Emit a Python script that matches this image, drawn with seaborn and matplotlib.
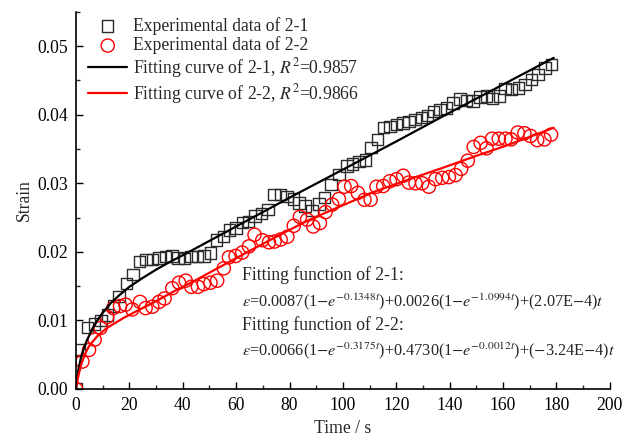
import pandas as pd
import matplotlib
matplotlib.use('Agg')
import matplotlib.pyplot as plt
import seaborn as sns
from matplotlib.ticker import MultipleLocator

t_21 = [0, 1.4, 4.4, 6.9, 9.3, 11.8, 14.0, 16.2, 18.9, 21.4,
        23.9, 26.3, 28.7, 31.1, 33.5, 35.9, 38.3, 40.7, 43.1, 45.5,
        47.9, 50.3, 52.7, 55.2, 57.5, 59.9, 62.3, 64.7, 67.1, 69.5,
        72.0, 74.2, 76.6, 79.0, 81.4, 83.5, 85.8, 88.5, 91.0, 93.2,
        95.6, 98.5, 101.5, 103.6, 106.0, 108.4, 110.6, 113.0, 115.3, 117.7,
        120.1, 122.5, 124.7, 127.1, 129.5, 131.7, 134.0, 136.4, 138.8, 141.3,
        143.8, 146.3, 148.8, 151.3, 153.8, 156.1, 158.6, 160.8, 163.2, 165.7,
        168.2, 170.7, 173.1, 175.7, 178.2]
strain_21 = [0, 0.0057, 0.0090, 0.0095, 0.0100, 0.0108, 0.0121, 0.0135, 0.0154, 0.0167,
             0.0186, 0.0189, 0.0189, 0.0191, 0.0193, 0.0194, 0.0191, 0.0190, 0.0193, 0.0193,
             0.0194, 0.0198, 0.0217, 0.0222, 0.0232, 0.0235, 0.0243, 0.0244, 0.0252, 0.0256,
             0.0262, 0.0284, 0.0284, 0.0281, 0.0277, 0.0271, 0.0267, 0.0260, 0.0270, 0.0279,
             0.0298, 0.0313, 0.0325, 0.0328, 0.0332, 0.0334, 0.0352, 0.0364, 0.0381, 0.0383,
             0.0386, 0.0388, 0.0390, 0.0393, 0.0396, 0.0399, 0.0405, 0.0408, 0.0410, 0.0417,
             0.0423, 0.0421, 0.0420, 0.0426, 0.0427, 0.0424, 0.0427, 0.0438, 0.0437, 0.0439,
             0.0444, 0.0451, 0.0459, 0.0468, 0.0473]

# experimental data 2-2 (circles)
t_22 = [0, 2.4, 4.9, 7.0, 9.2, 11.7, 14.0, 16.5, 18.6, 21.1,
        24.0, 26.1, 28.6, 31.1, 33.2, 36.1, 38.6, 41.1, 43.2, 45.7,
        47.9, 50.4, 52.9, 55.4, 57.3, 59.8, 62.3, 64.8, 66.9, 69.8,
        72.3, 74.4, 76.7, 79.2, 81.6, 83.9, 86.6, 88.9, 91.4, 93.5,
        96.0, 98.5, 100.6, 103.1, 105.6, 108.1, 110.4, 112.6, 115.1, 117.6,
        120.1, 122.6, 124.7, 127.2, 129.7, 132.2, 134.7, 137.2, 139.7, 142.2,
        144.3, 146.8, 149.0, 151.6, 153.8, 155.9, 158.4, 160.9, 163.0, 165.5,
        168.0, 170.3, 172.8, 175.5, 178.0]
strain_22 = [0, 0.0040, 0.0057, 0.0072, 0.0089, 0.0105, 0.0118, 0.0121, 0.0123, 0.0116,
             0.0127, 0.0118, 0.0120, 0.0127, 0.0132, 0.0147, 0.0155, 0.0158, 0.0149, 0.0149,
             0.0153, 0.0155, 0.0158, 0.0176, 0.0192, 0.0194, 0.0199, 0.0208, 0.0225, 0.0217,
             0.0214, 0.0215, 0.0218, 0.0222, 0.0238, 0.0251, 0.0247, 0.0237, 0.0242, 0.0258,
             0.0269, 0.0277, 0.0295, 0.0296, 0.0286, 0.0276, 0.0276, 0.0295, 0.0296, 0.0303,
             0.0306, 0.0311, 0.0301, 0.0300, 0.0300, 0.0295, 0.0306, 0.0308, 0.0309, 0.0312,
             0.0321, 0.0333, 0.0353, 0.0359, 0.0351, 0.0365, 0.0365, 0.0365, 0.0364, 0.0374,
             0.0373, 0.0369, 0.0363, 0.0364, 0.0371]

# fitting curves
t_fit21 = [0, 0.25, 0.5, 1, 2, 3, 4, 6, 8, 10, 13, 16, 20, 25, 30, 35, 40, 50, 60, 80,
           100, 120, 140, 160, 179]
fit_21 = [0, 0.0010, 0.0018, 0.0030, 0.0048, 0.0060, 0.0070, 0.0087, 0.0100, 0.0111,
          0.0125, 0.0136, 0.0149, 0.0162, 0.0174, 0.0185, 0.0195, 0.0216, 0.0237, 0.0279,
          0.0320, 0.0361, 0.0403, 0.0444, 0.0483]
t_fit22 = [0, 0.5, 1, 2, 3, 4, 5, 6, 8, 10, 12, 15, 18, 22, 26, 30, 37, 45, 53, 62,
           75, 87, 100, 112, 125, 137, 150, 162, 179]
fit_22 = [0, 0.0011, 0.0021, 0.0036, 0.0047, 0.0056, 0.0063, 0.0068, 0.0077, 0.0084,
          0.0090, 0.0097, 0.0104, 0.0112, 0.0120, 0.0128, 0.0143, 0.0159, 0.0176, 0.0195,
          0.0222, 0.0246, 0.0268, 0.0288, 0.0306, 0.0322, 0.0340, 0.0356, 0.0381]

labels = ['Experimental data of 2-1', 'Experimental data of 2-2',
          'Fitting curve of 2-1, $R^2$=0.9857', 'Fitting curve of 2-2, $R^2$=0.9866']
func_text = ['Fitting function of 2-1:',
             r'$\varepsilon$=0.0087(1$-$$e^{-0.1348t}$)+0.0026(1$-$$e^{-1.0994t}$)+(2.07E$-$4)$t$',
             'Fitting function of 2-2:',
             r'$\varepsilon$=0.0066(1$-$$e^{-0.3175t}$)+0.4730(1$-$$e^{-0.0012t}$)+($-$3.24E$-$4)$t$']

sns.set_style('ticks')
plt.rcParams['font.family'] = ['Liberation Serif', 'DejaVu Serif']
plt.rcParams['mathtext.fontset'] = 'stix'
fs = 12.7
plt.rcParams['font.size'] = fs

df21 = pd.DataFrame({'t': t_21, 'strain': strain_21})
df22 = pd.DataFrame({'t': t_22, 'strain': strain_22})
fit21 = pd.DataFrame({'t': t_fit21, 'strain': fit_21})
fit22 = pd.DataFrame({'t': t_fit22, 'strain': fit_22})

fig = plt.figure(figsize=(6.31, 4.38), dpi=100)
ax = fig.add_axes([0.1204, 0.1119, 0.846, 0.861])

sns.scatterplot(data=df21, x='t', y='strain', marker='s', s=68, facecolor='none',
                edgecolor='#2b2b2b', linewidth=1.0, label=labels[0], ax=ax)
sns.scatterplot(data=df22, x='t', y='strain', marker='o', s=90, facecolor='none',
                edgecolor='red', linewidth=1.0, label=labels[1], ax=ax)
sns.lineplot(data=fit21, x='t', y='strain', color='black', linewidth=1.6, label=labels[2], ax=ax)
sns.lineplot(data=fit22, x='t', y='strain', color='red', linewidth=1.6, label=labels[3], ax=ax)

ax.set_xlim(0, 200)
ax.set_ylim(0, 0.055)
ax.xaxis.set_major_locator(MultipleLocator(20))
ax.xaxis.set_minor_locator(MultipleLocator(10))
ax.yaxis.set_major_locator(MultipleLocator(0.01))
ax.yaxis.set_minor_locator(MultipleLocator(0.005))
ax.yaxis.set_major_formatter(matplotlib.ticker.FormatStrFormatter('%.2f'))
ax.tick_params(which='major', direction='in', length=5, width=1, labelsize=fs,
               colors='black', pad=6)
ax.tick_params(which='minor', direction='in', length=3, width=1)
sns.despine(ax=ax)
for sp in ['left', 'bottom']:
    ax.spines[sp].set_linewidth(1.2)
    ax.spines[sp].set_color('black')
ax.set_xlabel('Time / s', fontsize=fs, labelpad=4)
ax.set_ylabel('Strain', fontsize=fs, labelpad=3)

handles, labs = ax.get_legend_handles_labels()
order = [labs.index(l) for l in labels]
ax.legend([handles[i] for i in order], [labs[i] for i in order], loc='upper left',
          bbox_to_anchor=(0.0, 1.02), frameon=False, fontsize=fs, handlelength=2.2,
          handletextpad=0.35, labelspacing=0.1, borderaxespad=0.3)

text_y = [0.302, 0.232, 0.169, 0.102]
text_fs = [fs, 11.7, fs, 11.7]
for txt, yy, tf in zip(func_text, text_y, text_fs):
    ax.text(0.311, yy, txt, transform=ax.transAxes, fontsize=tf,
            va='center', ha='left')

fig.savefig('out.png', dpi=100)
